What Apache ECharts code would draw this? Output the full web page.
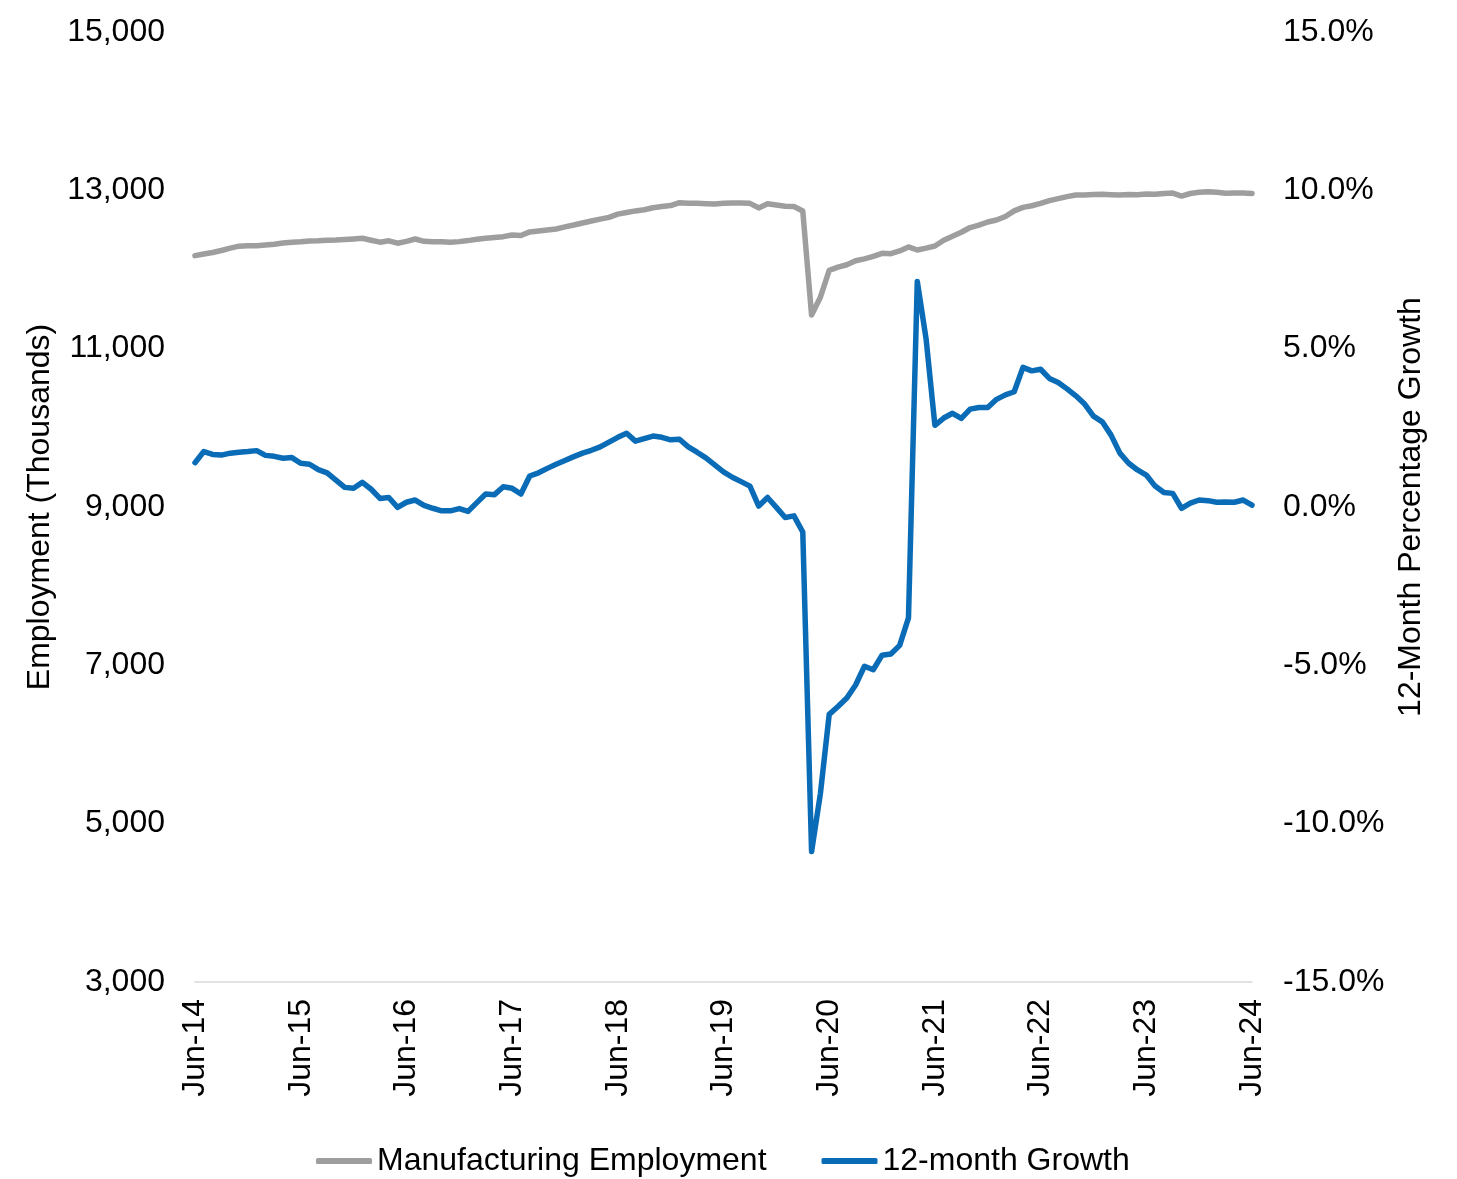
<!DOCTYPE html>
<html>
<head>
<meta charset="utf-8">
<title>Manufacturing Employment</title>
<script src="https://cdn.jsdelivr.net/npm/echarts@6/dist/echarts.min.js"></script>
<style>
  html, body { margin: 0; padding: 0; background: #fff; }
  #chart { width: 1457px; height: 1179px; }
</style>
</head>
<body>
<div id="chart"></div>
<script>
// Monthly series, Jun-2014 through Jun-2024
const startYear = 2014;
const startMonth = 5; // June (0-based)
const monthCount = 121;
const monthNames = ['Jan','Feb','Mar','Apr','May','Jun','Jul','Aug','Sep','Oct','Nov','Dec'];

// Manufacturing employment, thousands
const employment = [
  12175,12195,12215,12240,12270,12295,12300,12301,12310,12320,12335,12345,
  12350,12360,12362,12370,12372,12378,12385,12394,12370,12345,12362,12332,
  12355,12385,12356,12352,12350,12343,12352,12365,12382,12395,12405,12415,
  12436,12430,12475,12486,12498,12512,12538,12562,12588,12613,12637,12659,
  12700,12720,12740,12755,12780,12795,12808,12844,12836,12838,12832,12828,
  12836,12840,12840,12836,12778,12830,12815,12800,12795,12740,11425,11650,
  11990,12030,12060,12110,12135,12165,12204,12200,12235,12285,12246,12270,
  12297,12370,12420,12470,12530,12560,12600,12625,12670,12740,12785,12805,
  12835,12870,12895,12920,12941,12942,12948,12950,12945,12940,12946,12943,
  12954,12950,12960,12966,12928,12960,12975,12983,12975,12962,12965,12965,
  12960
];

// 12-month percentage growth
const growth = [
  1.40,1.75,1.66,1.64,1.70,1.73,1.75,1.78,1.63,1.60,1.54,1.56,
  1.38,1.35,1.18,1.08,0.85,0.62,0.59,0.78,0.56,0.27,0.30,-0.01,
  0.15,0.22,0.05,-0.04,-0.12,-0.12,-0.05,-0.14,0.14,0.41,0.39,0.64,
  0.59,0.41,0.98,1.08,1.22,1.35,1.47,1.59,1.70,1.79,1.90,2.05,
  2.20,2.33,2.08,2.16,2.24,2.20,2.12,2.14,1.90,1.73,1.55,1.33,
  1.11,0.94,0.80,0.66,0.03,0.30,-0.01,-0.33,-0.28,-0.79,-10.88,-9.05,
  -6.55,-6.30,-6.03,-5.62,-5.03,-5.14,-4.68,-4.64,-4.37,-3.50,7.12,5.31,
  2.58,2.81,2.96,2.80,3.09,3.14,3.14,3.40,3.54,3.64,4.41,4.30,
  4.35,4.06,3.93,3.73,3.51,3.25,2.87,2.69,2.27,1.70,1.38,1.17,
  1.01,0.66,0.46,0.43,-0.04,0.12,0.22,0.20,0.15,0.16,0.15,0.22,
  0.06
];

// Month labels like "Jun-14"
const categories = [];
for (let i = 0; i < monthCount; i++) {
  const m = (startMonth + i) % 12;
  const y = startYear + Math.floor((startMonth + i) / 12);
  categories.push(monthNames[m] + '-' + String(y % 100).padStart(2, '0'));
}

const FONT = '"Liberation Sans", Arial, sans-serif';
const GRAY = '#9e9e9e';
const BLUE = '#0a6bb6';

function withCommas(v) {
  return String(v).replace(/\B(?=(\d{3})+(?!\d))/g, ',');
}

const chart = echarts.init(document.getElementById('chart'), null, { renderer: 'canvas' });
chart.setOption({
  animation: false,
  backgroundColor: '#fff',
  textStyle: { fontFamily: FONT, color: '#000' },
  grid: { left: 195, right: 205, top: 32, bottom: 197, containLabel: false },
  legend: {
    left: 311,
    top: 1140,
    itemGap: 55,
    itemWidth: 56,
    itemHeight: 6,
    icon: 'roundRect',
    textStyle: { fontFamily: FONT, fontSize: 32, color: '#000' },
    data: ['Manufacturing Employment', '12-month Growth']
  },
  xAxis: {
    type: 'category',
    data: categories,
    boundaryGap: false,
    axisLine: { show: true, onZero: false, lineStyle: { color: '#d9d9d9', width: 1.5 } },
    axisTick: { show: false },
    axisLabel: {
      interval: 11,
      rotate: 90,
      margin: 17,
      fontSize: 32,
      fontFamily: FONT,
      color: '#000'
    },
    splitLine: { show: false }
  },
  yAxis: [
    {
      type: 'value',
      min: 3000,
      max: 15000,
      interval: 2000,
      name: 'Employment (Thousands)',
      nameLocation: 'middle',
      nameRotate: 90,
      nameGap: 137,
      nameTextStyle: { fontFamily: FONT, fontSize: 32, color: '#000' },
      axisLine: { show: false },
      axisTick: { show: false },
      splitLine: { show: false },
      axisLabel: {
        margin: 30,
        fontSize: 32,
        fontFamily: FONT,
        color: '#000',
        formatter: withCommas
      }
    },
    {
      type: 'value',
      position: 'right',
      min: -15,
      max: 15,
      interval: 5,
      name: '12-Month Percentage Growth',
      nameLocation: 'middle',
      nameRotate: 90,
      nameGap: 142,
      nameTextStyle: { fontFamily: FONT, fontSize: 32, color: '#000' },
      axisLine: { show: false },
      axisTick: { show: false },
      splitLine: { show: false },
      axisLabel: {
        margin: 31,
        fontSize: 32,
        fontFamily: FONT,
        color: '#000',
        formatter: function (v) { return v.toFixed(1) + '%'; }
      }
    }
  ],
  series: [
    {
      name: 'Manufacturing Employment',
      type: 'line',
      yAxisIndex: 0,
      data: employment,
      symbol: 'none',
      color: GRAY,
      lineStyle: { color: GRAY, width: 5.5, cap: 'round', join: 'round' }
    },
    {
      name: '12-month Growth',
      type: 'line',
      yAxisIndex: 1,
      data: growth,
      symbol: 'none',
      color: BLUE,
      lineStyle: { color: BLUE, width: 5.5, cap: 'round', join: 'round' }
    }
  ]
});
</script>
</body>
</html>
